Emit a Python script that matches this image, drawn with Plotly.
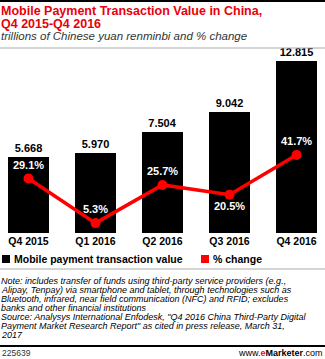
import plotly.graph_objects as go

quarters = ["Q4 2015", "Q1 2016", "Q2 2016", "Q3 2016", "Q4 2016"]
values = [5.668, 5.970, 7.504, 9.042, 12.815]
pct_change = [29.1, 5.3, 25.7, 20.5, 41.7]
value_labels = ["5.668", "5.970", "7.504", "9.042", "12.815"]
pct_labels = ["29.1%", "5.3%", "25.7%", "20.5%", "41.7%"]
pct_positions = ["top center", "top center", "top center", "bottom center", "top center"]

title_lines = ["Mobile Payment Transaction Value in China,", "Q4 2015-Q4 2016"]
subtitle = "trillions of Chinese yuan renminbi and % change"
note_lines = [
    "Note: includes transfer of funds using third-party service providers (e.g.,",
    "Alipay, Tenpay) via smartphone and tablet, through technologies such as",
    "Bluetooth, infrared, near field communication (NFC) and RFID; excludes",
    "banks and other financial institutions",
    "Source: Analysys International Enfodesk, \"Q4 2016 China Third-Party Digital",
    "Payment Market Research Report\" as cited in press release, March 31,",
    "2017",
]

FONT = "Liberation Sans, Arial, sans-serif"
RED = "#ff0000"

fig = go.Figure()
fig.add_trace(go.Bar(
    x=quarters, y=values, marker=dict(color="#000000", line=dict(width=0)),
    width=0.612, text=value_labels, textposition="outside", cliponaxis=False,
    textfont=dict(family=FONT, size=11, color="#000000", weight="bold"),
    name="Mobile payment transaction value", showlegend=False,
))
fig.add_trace(go.Scatter(
    x=quarters, y=pct_change, yaxis="y2", mode="lines+markers+text",
    line=dict(color=RED, width=3.5), marker=dict(color=RED, size=10),
    text=pct_labels, textposition=pct_positions, cliponaxis=False,
    textfont=dict(family=FONT, size=11, color="#ffffff", weight="bold"),
    name="% change", showlegend=False,
))

fig.update_layout(
    width=325, height=359,
    margin=dict(l=0, r=0, t=60, b=126),
    paper_bgcolor="#ffffff", plot_bgcolor="#ffffff",
    bargap=0,
    xaxis=dict(type="category", range=[-0.425, 4.425], showgrid=False, showline=False,
               ticks="", tickfont=dict(family=FONT, size=10.5, color="#000000", weight="bold")),
    yaxis=dict(range=[0, 12.9], visible=False, showgrid=False),
    yaxis2=dict(range=[0, 92.5], overlaying="y", visible=False, showgrid=False),
    font=dict(family=FONT),
)


def py(pix):
    # pixel y (from top) to paper coords
    return (233 - pix) / 173


def hline(pix, color, width):
    fig.add_shape(type="line", xref="paper", yref="paper", x0=0, x1=1,
                  y0=py(pix), y1=py(pix), line=dict(color=color, width=width))


hline(1, "#000000", 2)
hline(48, "#aaaaaa", 1)
hline(269, "#aaaaaa", 1)
hline(346, "#000000", 2)

for i, t in enumerate(title_lines):
    fig.add_annotation(xref="paper", yref="paper", x=0, y=py(11.2 + 12.6 * i),
                       xanchor="left", yanchor="middle", text="<b>" + t + "</b>",
                       showarrow=False, align="left", borderpad=0,
                       font=dict(family=FONT, size=12.5, color="#e8000b"))
fig.add_annotation(xref="paper", yref="paper", x=0, y=py(36.3), xanchor="left", yanchor="middle",
                   text="<i>" + subtitle + "</i>", showarrow=False, align="left", borderpad=0,
                   font=dict(family=FONT, size=11.5, color="#333333"))

# legend
fig.add_shape(type="rect", xref="paper", yref="paper", x0=2/325, x1=10/325,
              y0=py(263), y1=py(255), fillcolor="#000000", line=dict(width=0))
fig.add_annotation(xref="paper", yref="paper", x=12/325, y=py(259), xanchor="left", yanchor="middle",
                   text="<b>Mobile payment transaction value</b>", showarrow=False,
                   font=dict(family=FONT, size=10.5, color="#000000"))
fig.add_shape(type="rect", xref="paper", yref="paper", x0=201/325, x1=209/325,
              y0=py(263), y1=py(255), fillcolor=RED, line=dict(width=0))
fig.add_annotation(xref="paper", yref="paper", x=211/325, y=py(259), xanchor="left", yanchor="middle",
                   text="<b>% change</b>", showarrow=False,
                   font=dict(family=FONT, size=10.5, color="#000000"))

for i, t in enumerate(note_lines):
    fig.add_annotation(xref="paper", yref="paper", x=0, y=py(281 + 9.05 * i),
                       xanchor="left", yanchor="middle", text="<i>" + t + "</i>",
                       showarrow=False, align="left", borderpad=0,
                       font=dict(family=FONT, size=9, color="#000000"))

fig.add_annotation(xref="paper", yref="paper", x=0, y=py(353), xanchor="left", yanchor="middle",
                   text="225639", showarrow=False,
                   font=dict(family=FONT, size=8.5, color="#333333"))
fig.add_annotation(xref="paper", yref="paper", x=1, y=py(353), xanchor="right", yanchor="middle",
                   text="www.<b><span style='color:#ff0000'>e</span>Marketer</b>.com", showarrow=False,
                   font=dict(family=FONT, size=9, color="#000000"))

fig.write_html("out.html")
